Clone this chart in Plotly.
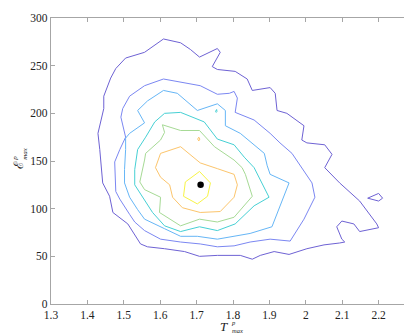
import plotly.graph_objects as go

# Contour levels (outer -> inner), vertices
c1_x = [1.609, 1.656, 1.683, 1.708, 1.757, 1.765, 1.743, 1.757, 1.806, 1.839, 1.853, 1.902, 1.916, 1.921,
        1.948, 1.995, 1.989, 2.003, 2.052, 2.072, 2.052, 2.085, 2.093, 2.148, 2.195, 2.200, 2.148, 2.132,
        2.099, 2.085, 2.093, 2.099, 2.107, 2.093, 2.050, 2.003, 1.954, 1.913, 1.875, 1.853, 1.820, 1.784,
        1.757, 1.708, 1.667, 1.612, 1.565, 1.546, 1.538, 1.511, 1.470, 1.461, 1.442, 1.437, 1.434, 1.429,
        1.437, 1.445, 1.445, 1.456, 1.464, 1.478, 1.505, 1.557]
c1_y = [278, 274, 267, 259, 268, 264, 249, 246, 244, 236, 224, 227, 221, 203,
        200, 187, 172, 169, 167, 157, 143, 130, 127, 108, 84, 80, 76, 84,
        87, 81, 74, 68, 65, 64, 62, 58, 52, 55, 51, 47, 51, 51,
        51, 50, 55, 58, 60, 63, 68, 84, 96, 113, 127, 151, 162, 179,
        193, 205, 218, 229, 237, 247, 258, 264]
c1b_x = [2.170, 2.200, 2.211, 2.200]
c1b_y = [111, 116, 111, 108]

c2_x = [1.609, 1.675, 1.710, 1.757, 1.790, 1.803, 1.812, 1.806, 1.858, 1.902, 1.929, 1.962, 1.984, 2.003,
        2.017, 2.025, 1.995, 1.957, 1.902, 1.847, 1.803, 1.757, 1.710, 1.656, 1.601, 1.557, 1.530, 1.516,
        1.489, 1.478, 1.475, 1.475, 1.489, 1.505, 1.492, 1.497, 1.516, 1.557]
c2_y = [236, 231, 229, 220, 221, 223, 216, 201, 193, 179, 169, 158, 146, 135,
        127, 112, 89, 66, 68, 65, 61, 60, 63, 65, 68, 77, 86, 94,
        110, 118, 138, 149, 162, 175, 196, 205, 218, 229]

c3_x = [1.609, 1.647, 1.702, 1.757, 1.779, 1.779, 1.820, 1.847, 1.886, 1.894, 1.902, 1.954, 1.929, 1.907,
        1.847, 1.803, 1.757, 1.702, 1.656, 1.612, 1.557, 1.538, 1.516, 1.502, 1.502, 1.505, 1.505, 1.516,
        1.557, 1.538, 1.565]
c3_y = [224, 221, 203, 210, 203, 187, 179, 170, 158, 145, 136, 127, 103, 81,
        74, 71, 68, 71, 71, 79, 89, 99, 112, 127, 141, 162, 174, 179,
        190, 203, 213]

c4_x = [1.612, 1.656, 1.721, 1.757, 1.803, 1.831, 1.858, 1.875, 1.899, 1.858, 1.806, 1.757, 1.708, 1.656,
        1.612, 1.579, 1.560, 1.530, 1.530, 1.538, 1.560, 1.585]
c4_y = [200, 201, 191, 173, 167, 154, 143, 130, 112, 103, 84, 77, 81, 76,
        82, 96, 107, 125, 141, 162, 175, 191]
c4b_x = [1.752, 1.755, 1.756, 1.754]
c4b_y = [202, 204, 202, 201]

c5_x = [1.606, 1.656, 1.708, 1.749, 1.803, 1.825, 1.834, 1.853, 1.803, 1.757, 1.708, 1.656, 1.598, 1.601,
        1.557, 1.544, 1.557, 1.560, 1.601, 1.612]
c5_y = [188, 182, 182, 165, 151, 143, 136, 113, 91, 86, 89, 82, 96, 112,
        120, 128, 151, 158, 172, 180]

c6_x = [1.656, 1.710, 1.757, 1.803, 1.812, 1.803, 1.765, 1.710, 1.661, 1.634, 1.626, 1.601, 1.587, 1.601]
c6_y = [165, 148, 142, 136, 125, 112, 97, 96, 101, 112, 125, 133, 143, 158]
c6b_x = [1.703, 1.706, 1.709, 1.706]
c6b_y = [173, 175, 173, 171]

c7_x = [1.708, 1.669, 1.664, 1.702, 1.730, 1.738]
c7_y = [139, 128, 113, 105, 113, 127]

peak_x = [1.711]
peak_y = [125]

x_ticks = [1.3, 1.4, 1.5, 1.6, 1.7, 1.8, 1.9, 2.0, 2.1, 2.2]
x_tick_labels = ["1.3", "1.4", "1.5", "1.6", "1.7", "1.8", "1.9", "2", "2.1", "2.2"]
y_ticks = [0, 50, 100, 150, 200, 250, 300]
y_tick_labels = ["0", "50", "100", "150", "200", "250", "300"]

levels = [
    ([c1_x, c1b_x], [c1_y, c1b_y], "#6e62d4"),
    ([c2_x], [c2_y], "#7b87f2"),
    ([c3_x], [c3_y], "#66b6f6"),
    ([c4_x, c4b_x], [c4_y, c4b_y], "#46d0d4"),
    ([c5_x], [c5_y], "#a6da95"),
    ([c6_x, c6b_x], [c6_y, c6b_y], "#fcc56c"),
    ([c7_x], [c7_y], "#f7f446"),
]

fig = go.Figure()
for xs_list, ys_list, col in levels:
    for xs, ys in zip(xs_list, ys_list):
        fig.add_trace(go.Scatter(x=xs + xs[:1], y=ys + ys[:1], mode="lines",
                                 line=dict(color=col, width=1.0), hoverinfo="skip",
                                 showlegend=False))

fig.add_trace(go.Scatter(x=peak_x, y=peak_y, mode="markers",
                         marker=dict(color="black", size=6.5), showlegend=False))

serif = "Liberation Serif, DejaVu Serif, serif"
axis_common = dict(showline=True, linecolor="#a6a6a6", linewidth=1.3, mirror="ticks",
                   ticks="inside", ticklen=4, tickcolor="#a6a6a6", tickwidth=1,
                   showgrid=False, zeroline=False, ticklabeloverflow="allow",
                   tickfont=dict(family=serif, size=11.5, color="#222"))

fig.update_xaxes(range=[1.3, 2.3], tickvals=x_ticks, ticktext=x_tick_labels, **axis_common)
fig.update_yaxes(range=[0, 300], tickvals=y_ticks, ticktext=y_tick_labels, **axis_common)

def ann(text, x, y, size, angle=0, xanchor="center", align="center"):
    fig.add_annotation(text=text, x=x, y=y, xref="paper", yref="paper", showarrow=False,
                       textangle=angle, xanchor=xanchor, yanchor="middle", borderpad=0,
                       align=align, font=dict(family=serif, size=size, color="#222"))

# x-axis title T^p_max (stacked super/subscript)
ann("<i>T</i>", 0.474, -0.079, 13)
ann("<i>p</i><br><i>max</i>", 0.4904, -0.079, 6.5, xanchor="left", align="left")
# y-axis title E^p_max (stacked super/subscript)
ann("ℰ", -0.091, 0.485, 13, -90)
ann("<i>p</i><br><i>max</i>", -0.0863, 0.524, 7, -90, align="left")

fig.update_layout(width=412, height=335, margin=dict(l=43, r=4, t=6, b=39),
                  plot_bgcolor="white", paper_bgcolor="white")

fig.write_html("out.html")
